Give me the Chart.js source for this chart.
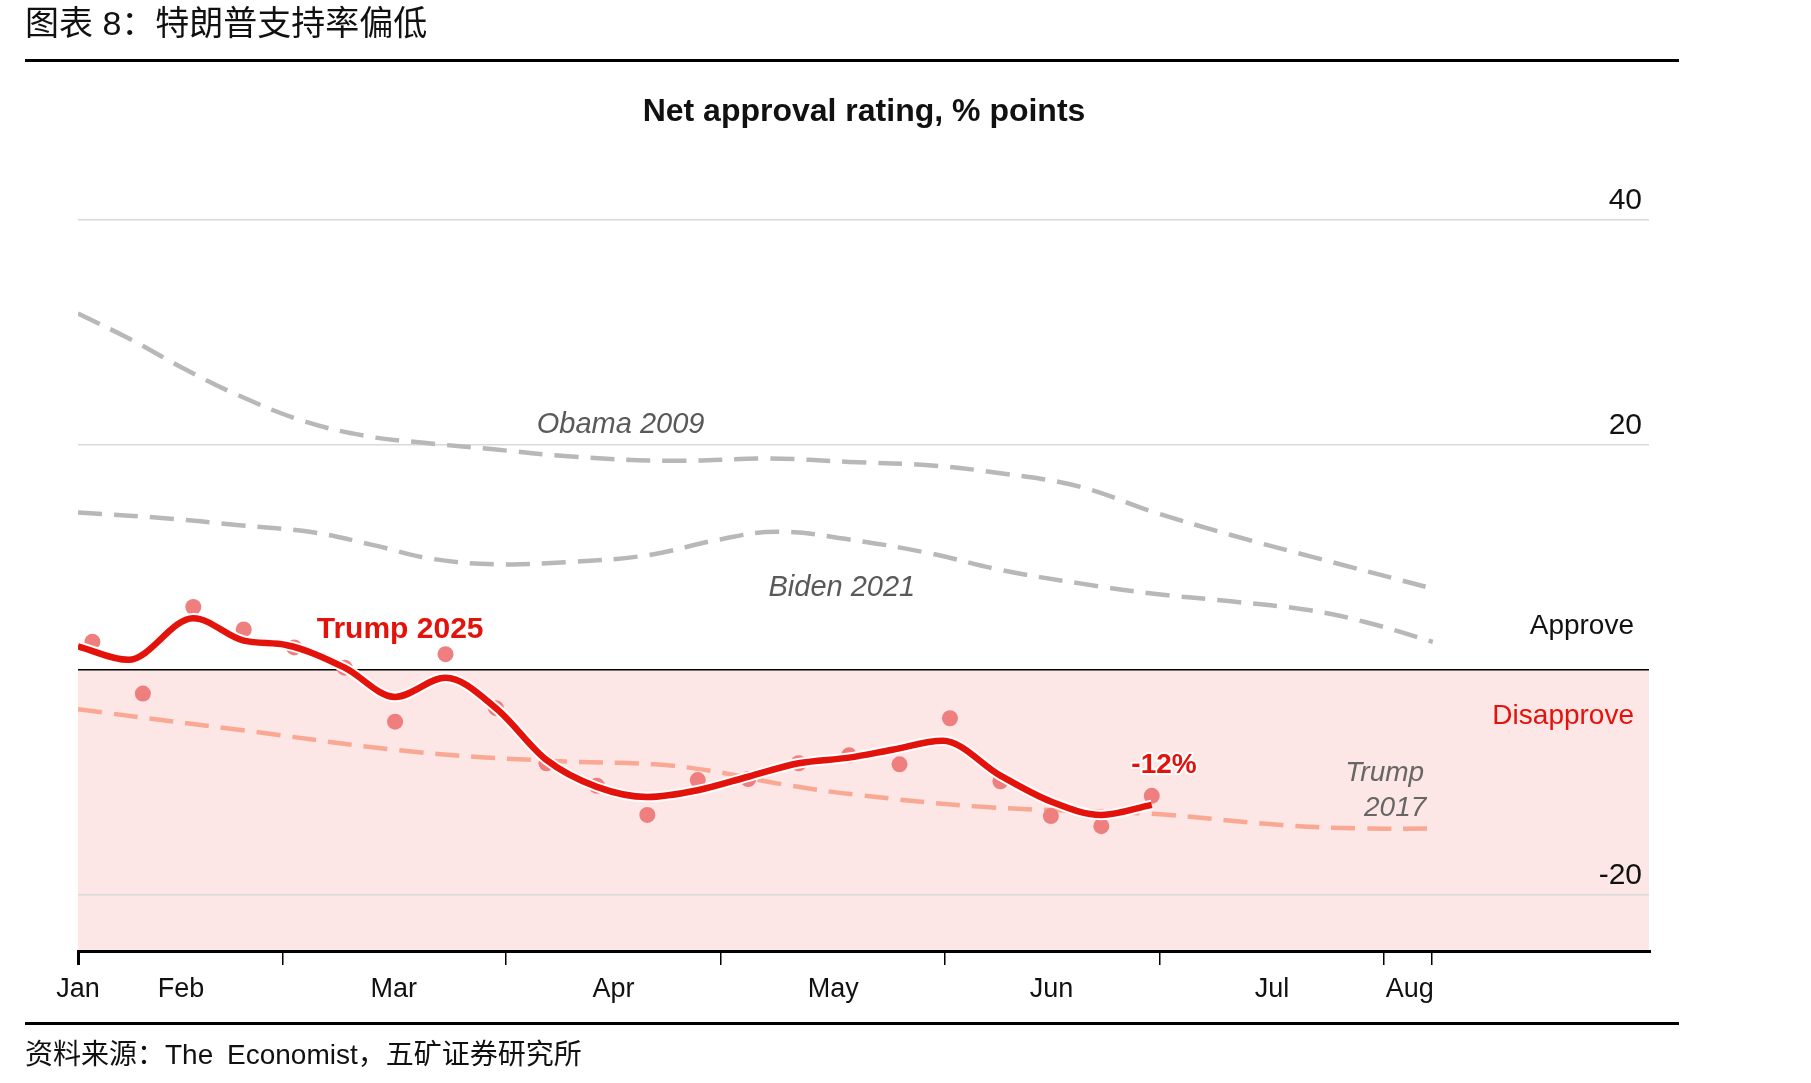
<!DOCTYPE html>
<html>
<head>
<meta charset="utf-8">
<script src="https://cdn.jsdelivr.net/npm/chart.js@4.4.1/dist/chart.umd.min.js"></script>
<style>
  html, body { margin: 0; padding: 0; background: #fff; }
  body { width: 1811px; height: 1083px; position: relative; overflow: hidden;
         font-family: "Liberation Sans", Arial, "Noto Sans CJK SC", sans-serif; color: #111; }
  #wrap { position: absolute; left: 0; top: 0; width: 1811px; height: 1083px; }
  .head { position: absolute; left: 25px; top: 2px; font-size: 34px; line-height: 42px; }
  .rule { position: absolute; left: 25px; width: 1654px; height: 3px; background: #000; }
  .chart-title { position: absolute; left: 564px; width: 600px; top: 90px; text-align: center;
                 font-size: 32px; line-height: 40px; font-weight: bold; }
  .src { position: absolute; left: 25px; top: 1038px; font-size: 28px; line-height: 34px; word-spacing: 6px; }
</style>
</head>
<body>
<div id="wrap"><canvas id="approvalChart"></canvas></div>
<div class="head">图表 8：特朗普支持率偏低</div>
<div class="rule" style="top:59px"></div>
<div class="chart-title">Net approval rating, % points</div>
<div class="rule" style="top:1022px"></div>
<div class="src">资料来源：The Economist，五矿证券研究所</div>

<script>
// x values are days since inauguration
const monthLabels = ['Jan', 'Feb', 'Mar', 'Apr', 'May', 'Jun', 'Jul', 'Aug'];
const monthLabelDays = [0, 14.3, 43.8, 74.3, 104.8, 135.1, 165.7, 184.8];
const monthTickDays = [0, 28.4, 59.3, 89.2, 120.3, 150.1, 181.2, 187.9];
const yTicks = [-20, 0, 20, 40];

// Trump 2025 weekly polls and smoothed trend
const pollDays = [2, 9, 16, 23, 30, 37, 44, 51, 58, 65, 72, 79, 86, 93, 100, 107, 114, 121, 128, 135, 142, 149];
const pollValues = [2.5, -2.1, 5.6, 3.6, 2.0, 0.2, -4.6, 1.4, -3.4, -8.3, -10.3, -12.9, -9.8, -9.7, -8.3, -7.6, -8.4, -4.3, -9.9, -13.0, -13.9, -11.2];
const trendDays = [0, 7, 16, 23, 29, 37, 44, 51, 58, 65, 72, 79, 86, 93, 100, 107, 113, 120, 128, 135, 142, 149];
const trendValues = [2.1, 0.9, 4.6, 2.6, 2.2, 0.2, -2.4, -0.7, -3.4, -8.0, -10.4, -11.3, -10.7, -9.5, -8.3, -7.8, -7.1, -6.3, -9.4, -11.7, -12.9, -12.0];

// earlier presidents
const trump2017Days = [0, 22, 47, 66, 80, 88, 98, 108, 126, 149, 167, 178, 188];
const trump2017Values = [-3.5, -5.3, -7.3, -8.1, -8.4, -9.0, -10.2, -11.1, -12.2, -12.8, -13.8, -14.1, -14.1];
const bidenDays = [0, 12, 22, 33, 41, 49, 58, 68, 79, 89, 97, 107, 118, 128, 139, 149, 160, 171, 179, 188];
const bidenValues = [14.0, 13.5, 12.9, 12.2, 11.1, 9.9, 9.4, 9.6, 10.2, 11.6, 12.3, 11.6, 10.4, 8.9, 7.7, 6.8, 6.1, 5.3, 4.2, 2.5];
const obamaDays = [0, 7, 15, 22, 31, 40, 48, 58, 68, 82, 96, 107, 118, 128, 139, 149, 160, 171, 187];
const obamaValues = [31.7, 29.5, 26.7, 24.5, 22.2, 20.8, 20.2, 19.6, 19.0, 18.6, 18.8, 18.5, 18.2, 17.5, 16.3, 14.1, 12.0, 10.1, 7.4];

const FONT = '"Liberation Sans", Arial, sans-serif';
const RED = '#e3120b';

function pts(days, values) {
  return days.map((d, i) => ({ x: d, y: values[i] }));
}

// pink "disapprove" band below zero
const bandPlugin = {
  id: 'band',
  beforeDraw(chart) {
    const { ctx, chartArea: a, scales: { y } } = chart;
    const y0 = y.getPixelForValue(0);
    ctx.save();
    ctx.fillStyle = '#fde6e6';
    ctx.fillRect(a.left, y0, a.right - a.left, a.bottom - y0);
    ctx.restore();
  }
};

// text labels on the plot
const notesPlugin = {
  id: 'notes',
  afterDatasetsDraw(chart) {
    const { ctx, chartArea: a, scales: { x, y } } = chart;
    const put = (text, px, py, font, color, align, halo) => {
      ctx.font = font;
      ctx.textAlign = align;
      ctx.textBaseline = 'middle';
      if (halo) {
        ctx.strokeStyle = '#fff';
        ctx.lineWidth = 4;
        ctx.lineJoin = 'round';
        ctx.strokeText(text, px, py);
      }
      ctx.fillStyle = color;
      ctx.fillText(text, px, py);
    };
    ctx.save();
    put('Obama 2009', x.getPixelForValue(75.3), y.getPixelForValue(21.8), 'italic 29px ' + FONT, '#595959', 'center');
    put('Biden 2021', x.getPixelForValue(106), y.getPixelForValue(7.3), 'italic 29px ' + FONT, '#595959', 'center');
    put('Trump 2025', x.getPixelForValue(44.7), y.getPixelForValue(3.6), 'bold 30px ' + FONT, RED, 'center', true);
    put('-12%', x.getPixelForValue(150.7), y.getPixelForValue(-8.5), 'bold 28px ' + FONT, RED, 'center', true);
    put('Trump', x.getPixelForValue(186.8), y.getPixelForValue(-9.2), 'italic 28px ' + FONT, '#666', 'right');
    put('2017', x.getPixelForValue(187.1), y.getPixelForValue(-12.3), 'italic 28px ' + FONT, '#666', 'right');
    put('Approve', a.right - 15, y.getPixelForValue(3.9), '28px ' + FONT, '#111', 'right');
    put('Disapprove', a.right - 15, y.getPixelForValue(-4.1), '28px ' + FONT, RED, 'right');
    ctx.restore();
  }
};

const dashed = (label, days, values, color) => ({
  label: label,
  data: pts(days, values),
  borderColor: color,
  borderWidth: 4.5,
  borderDash: [24, 12],
  pointRadius: 0,
  tension: 0.4,
  fill: false
});

const ctx = document.getElementById('approvalChart').getContext('2d');

new Chart(ctx, {
  type: 'line',
  data: {
    datasets: [
      {
        label: 'Trump 2025',
        data: pts(trendDays, trendValues),
        borderColor: RED,
        borderWidth: 6.5,
        pointRadius: 0,
        cubicInterpolationMode: 'monotone',
        fill: false
      },
      {
        label: 'halo',
        data: pts(trendDays, trendValues),
        borderColor: '#fff',
        borderWidth: 10.5,
        pointRadius: 0,
        cubicInterpolationMode: 'monotone',
        fill: false
      },
      {
        label: 'Polls',
        data: pts(pollDays, pollValues),
        showLine: false,
        pointRadius: 8,
        pointBorderWidth: 0,
        pointBackgroundColor: '#ef7e7e'
      },
      dashed('Trump 2017', trump2017Days, trump2017Values, '#f9a893'),
      dashed('Biden 2021', bidenDays, bidenValues, '#b8b8b8'),
      dashed('Obama 2009', obamaDays, obamaValues, '#b8b8b8')
    ]
  },
  options: {
    responsive: true,
    maintainAspectRatio: false,
    animation: false,
    layout: { padding: { left: 78, right: 162, top: 164, bottom: 72 } },
    plugins: {
      legend: { display: false },
      tooltip: { enabled: false },
      title: { display: false }
    },
    scales: {
      x: {
        type: 'linear',
        min: 0,
        max: 218,
        afterBuildTicks: (s) => {
          const vals = [...new Set(monthTickDays.concat(monthLabelDays))].sort((a, b) => a - b);
          s.ticks = vals.map(v => ({ value: v }));
        },
        afterFit: (s) => { s.height = 60; },
        ticks: {
          autoSkip: false,
          maxRotation: 0,
          padding: 8,
          color: '#111',
          font: { family: FONT, size: 27 },
          callback: (v) => {
            const i = monthLabelDays.indexOf(v);
            return i < 0 ? '' : monthLabels[i];
          }
        },
        grid: {
          drawOnChartArea: false,
          drawTicks: true,
          tickLength: 14,
          color: (c) => (c.tick && monthTickDays.includes(c.tick.value)) ? '#000' : 'rgba(0,0,0,0)',
          lineWidth: (c) => (c.tick && c.tick.value === 0) ? 3 : 1.5
        },
        border: { display: true, color: '#000', width: 3 }
      },
      y: {
        position: 'right',
        min: -25,
        max: 45,
        afterBuildTicks: (s) => { s.ticks = yTicks.map(v => ({ value: v })); },
        afterFit: (s) => { s.width = 0; },
        ticks: {
          mirror: true,
          padding: -7,
          labelOffset: -19,
          color: '#111',
          font: { family: FONT, size: 30 },
          callback: (v) => v === 0 ? '' : String(v)
        },
        grid: {
          drawTicks: false,
          color: (c) => (c.tick && c.tick.value === 0) ? '#000' : '#d9d9d9',
          lineWidth: 1.5
        },
        border: { display: false }
      }
    }
  },
  plugins: [bandPlugin, notesPlugin]
});
</script>
</body>
</html>
